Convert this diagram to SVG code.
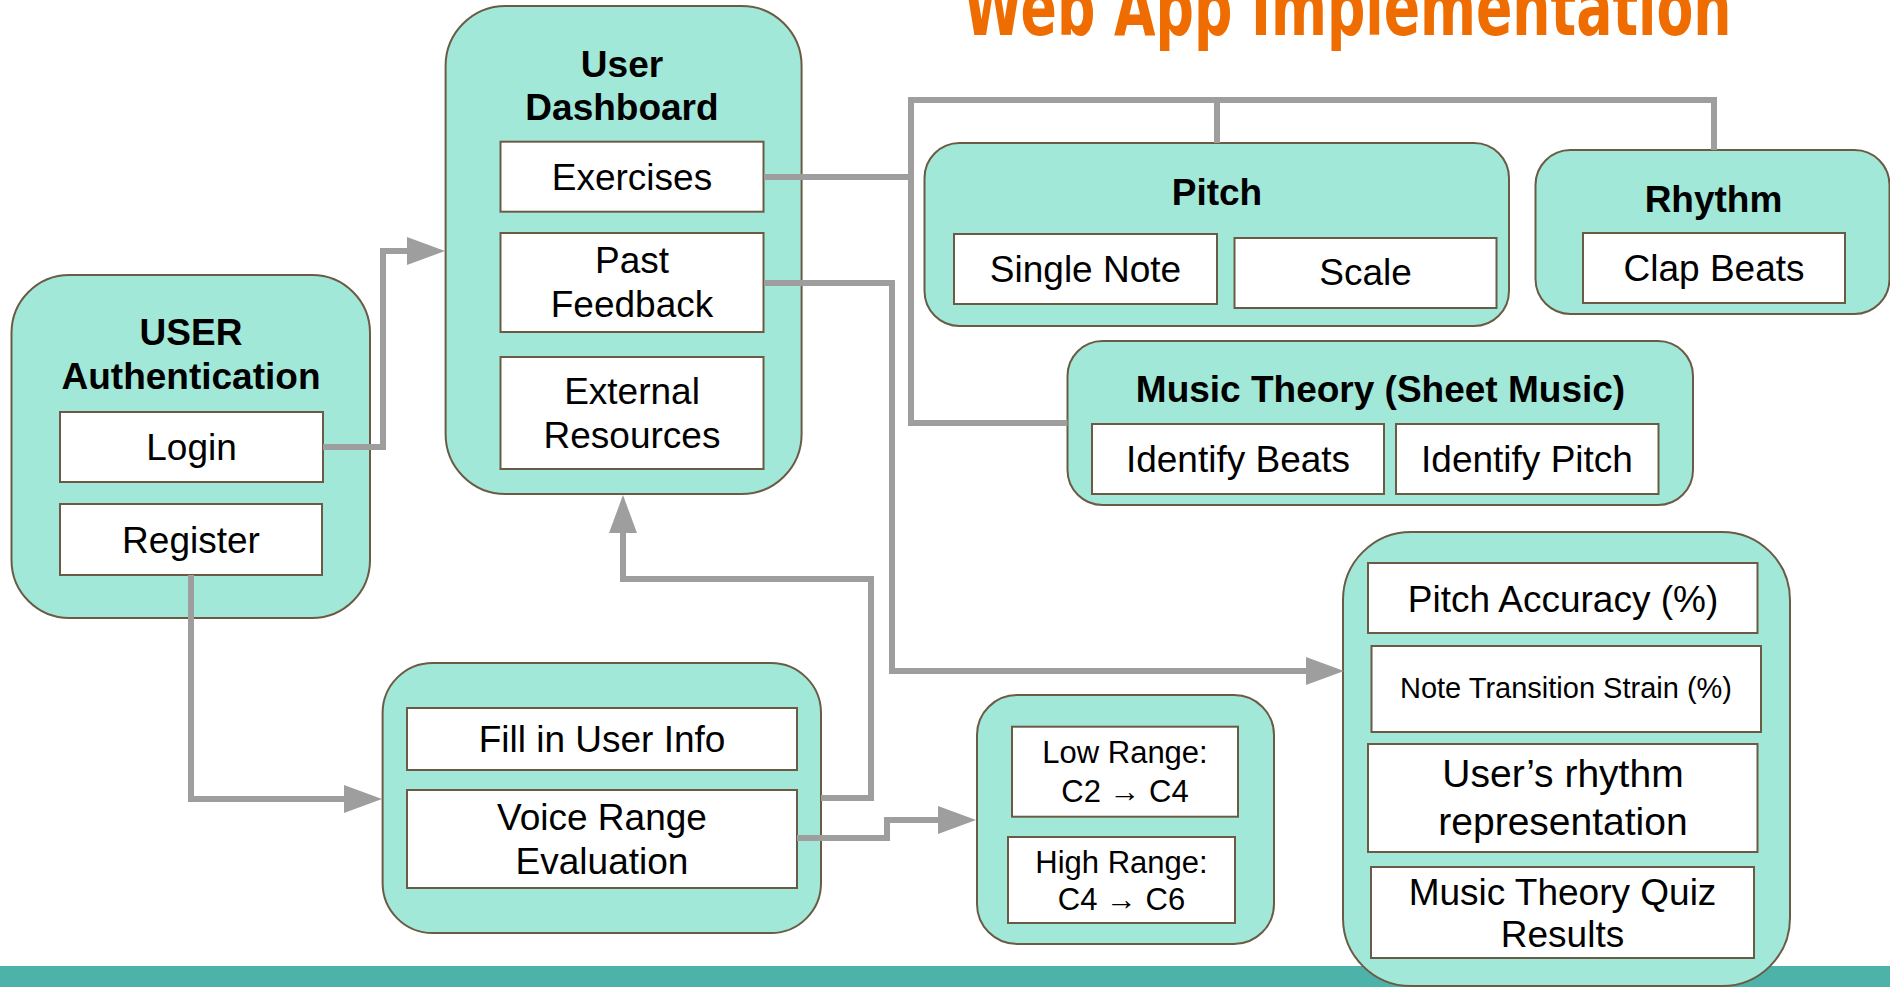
<svg xmlns="http://www.w3.org/2000/svg" width="1890" height="987" viewBox="0 0 1890 987">
<defs>
<style>
.outer{fill:#a2e8d8;stroke:#6b5b45;stroke-width:2}
.inner{fill:#ffffff;stroke:#6b5b45;stroke-width:2}
.t{font-family:"Liberation Sans",Arial,sans-serif;font-size:37px;fill:#000;text-anchor:middle}
.b{font-weight:bold}
.s29{font-size:29px}
.s31{font-size:31px}
.s39{font-size:39px}
.conn{fill:none;stroke:#9e9e9e;stroke-width:6;stroke-linejoin:miter}
.title{font-family:"Liberation Sans Narrow","DejaVu Sans Condensed","Open Sans",sans-serif;font-weight:bold;font-size:78px;fill:#ef6c00}
</style>
<marker id="arr" markerUnits="userSpaceOnUse" markerWidth="38" markerHeight="28" viewBox="0 0 38 28" refX="0" refY="14" orient="auto">
<path d="M0,0 L38,14 L0,28 z" fill="#9e9e9e"/>
</marker>
</defs>
<rect x="0" y="0" width="1890" height="987" fill="#ffffff"/>
<rect x="0" y="966" width="1890" height="21" fill="#4db3aa"/>
<text class="title" x="963.5" y="35" textLength="768" lengthAdjust="spacingAndGlyphs">Web App Implementation</text>

<g id="auth">
<rect class="outer" x="11.5" y="275" width="358.5" height="343" rx="58"/>
<text class="t b" x="191" y="345">USER</text>
<text class="t b" x="191" y="389">Authentication</text>
</g>
<g id="login">
<rect class="inner" x="60" y="412" width="263" height="70"/>
<text class="t" x="191.5" y="460">Login</text>
</g>
<g id="register">
<rect class="inner" x="60" y="504" width="262" height="71"/>
<text class="t" x="191" y="553">Register</text>
</g>

<g id="dashboard">
<rect class="outer" x="445.6" y="6" width="356" height="488" rx="60"/>
<text class="t b" x="622" y="77">User</text>
<text class="t b" x="622" y="120">Dashboard</text>
</g>
<g id="exercises">
<rect class="inner" x="500.5" y="141.7" width="263" height="70"/>
<text class="t" x="632" y="190">Exercises</text>
</g>
<g id="past-feedback">
<rect class="inner" x="500.5" y="233" width="263" height="99"/>
<text class="t" x="632" y="273">Past</text>
<text class="t" x="632" y="316.5">Feedback</text>
</g>
<g id="external">
<rect class="inner" x="500.5" y="357" width="263" height="112"/>
<text class="t" x="632" y="404">External</text>
<text class="t" x="632" y="448">Resources</text>
</g>

<g id="pitch">
<rect class="outer" x="924.5" y="143" width="584.5" height="183" rx="35"/>
<text class="t b" x="1217" y="205">Pitch</text>
</g>
<g id="single-note">
<rect class="inner" x="954" y="234" width="263" height="70"/>
<text class="t" x="1085.5" y="282">Single Note</text>
</g>
<g id="scale">
<rect class="inner" x="1234.5" y="238" width="262" height="70"/>
<text class="t" x="1365.5" y="285">Scale</text>
</g>

<g id="rhythm">
<rect class="outer" x="1535.5" y="150" width="354" height="164" rx="35"/>
<text class="t b" x="1713.5" y="211.5">Rhythm</text>
</g>
<g id="clap-beats">
<rect class="inner" x="1583" y="233" width="262" height="70"/>
<text class="t" x="1714" y="281">Clap Beats</text>
</g>

<g id="music-theory">
<rect class="outer" x="1067.5" y="341" width="625.5" height="164" rx="35"/>
<text class="t b" x="1380.5" y="401.5">Music Theory (Sheet Music)</text>
</g>
<g id="identify-beats">
<rect class="inner" x="1092" y="424" width="292" height="70"/>
<text class="t" x="1238" y="471.5">Identify Beats</text>
</g>
<g id="identify-pitch">
<rect class="inner" x="1396" y="424" width="262.5" height="70"/>
<text class="t" x="1527" y="471.5">Identify Pitch</text>
</g>

<g id="setup">
<rect class="outer" x="382.6" y="663" width="438.4" height="270" rx="50"/>
</g>
<g id="fill-info">
<rect class="inner" x="407" y="708" width="390" height="62"/>
<text class="t" x="602" y="751.5">Fill in User Info</text>
</g>
<g id="voice-range">
<rect class="inner" x="407" y="790" width="390" height="98"/>
<text class="t" x="602" y="830">Voice Range</text>
<text class="t" x="602" y="874">Evaluation</text>
</g>

<g id="range">
<rect class="outer" x="977" y="695" width="297" height="249" rx="40"/>
</g>
<g id="low-range">
<rect class="inner" x="1012" y="726.7" width="226" height="90"/>
<text class="t s31" x="1125" y="763">Low Range:</text>
<text class="t s31" x="1125" y="802">C2 → C4</text>
</g>
<g id="high-range">
<rect class="inner" x="1008" y="837" width="227" height="86"/>
<text class="t s31" x="1121.5" y="873">High Range:</text>
<text class="t s31" x="1121.5" y="910">C4 → C6</text>
</g>

<g id="results">
<rect class="outer" x="1343" y="532" width="447" height="454" rx="68"/>
</g>
<g id="pitch-accuracy">
<rect class="inner" x="1368" y="563" width="389.5" height="70"/>
<text class="t" x="1563" y="612">Pitch Accuracy (%)</text>
</g>
<g id="note-transition">
<rect class="inner" x="1371.5" y="646" width="389.5" height="86"/>
<text class="t s29" x="1566" y="698">Note Transition Strain (%)</text>
</g>
<g id="rhythm-rep">
<rect class="inner" x="1368" y="744" width="389.5" height="108"/>
<text class="t s39" x="1563" y="787">User’s rhythm</text>
<text class="t s39" x="1563" y="835">representation</text>
</g>
<g id="quiz-results">
<rect class="inner" x="1371" y="867" width="383" height="91"/>
<text class="t" x="1562.5" y="905">Music Theory Quiz</text>
<text class="t" x="1562.5" y="947">Results</text>
</g>

<g id="connectors">
<path class="conn" d="M323,447 H383 V251 H407" marker-end="url(#arr)"/>
<path class="conn" d="M764,177 H911"/>
<path class="conn" d="M911,100 V423 H1067.5"/>
<path class="conn" d="M908,100 H1714 V150"/>
<path class="conn" d="M1217,100 V143"/>
<path class="conn" d="M764,283 H892 V671 H1306" marker-end="url(#arr)"/>
<path class="conn" d="M191,575 V799 H344" marker-end="url(#arr)"/>
<path class="conn" d="M821,798 H871 V579 H623 V533" marker-end="url(#arr)"/>
<path class="conn" d="M797,838 H887 V820 H938" marker-end="url(#arr)"/>
</g>
</svg>
